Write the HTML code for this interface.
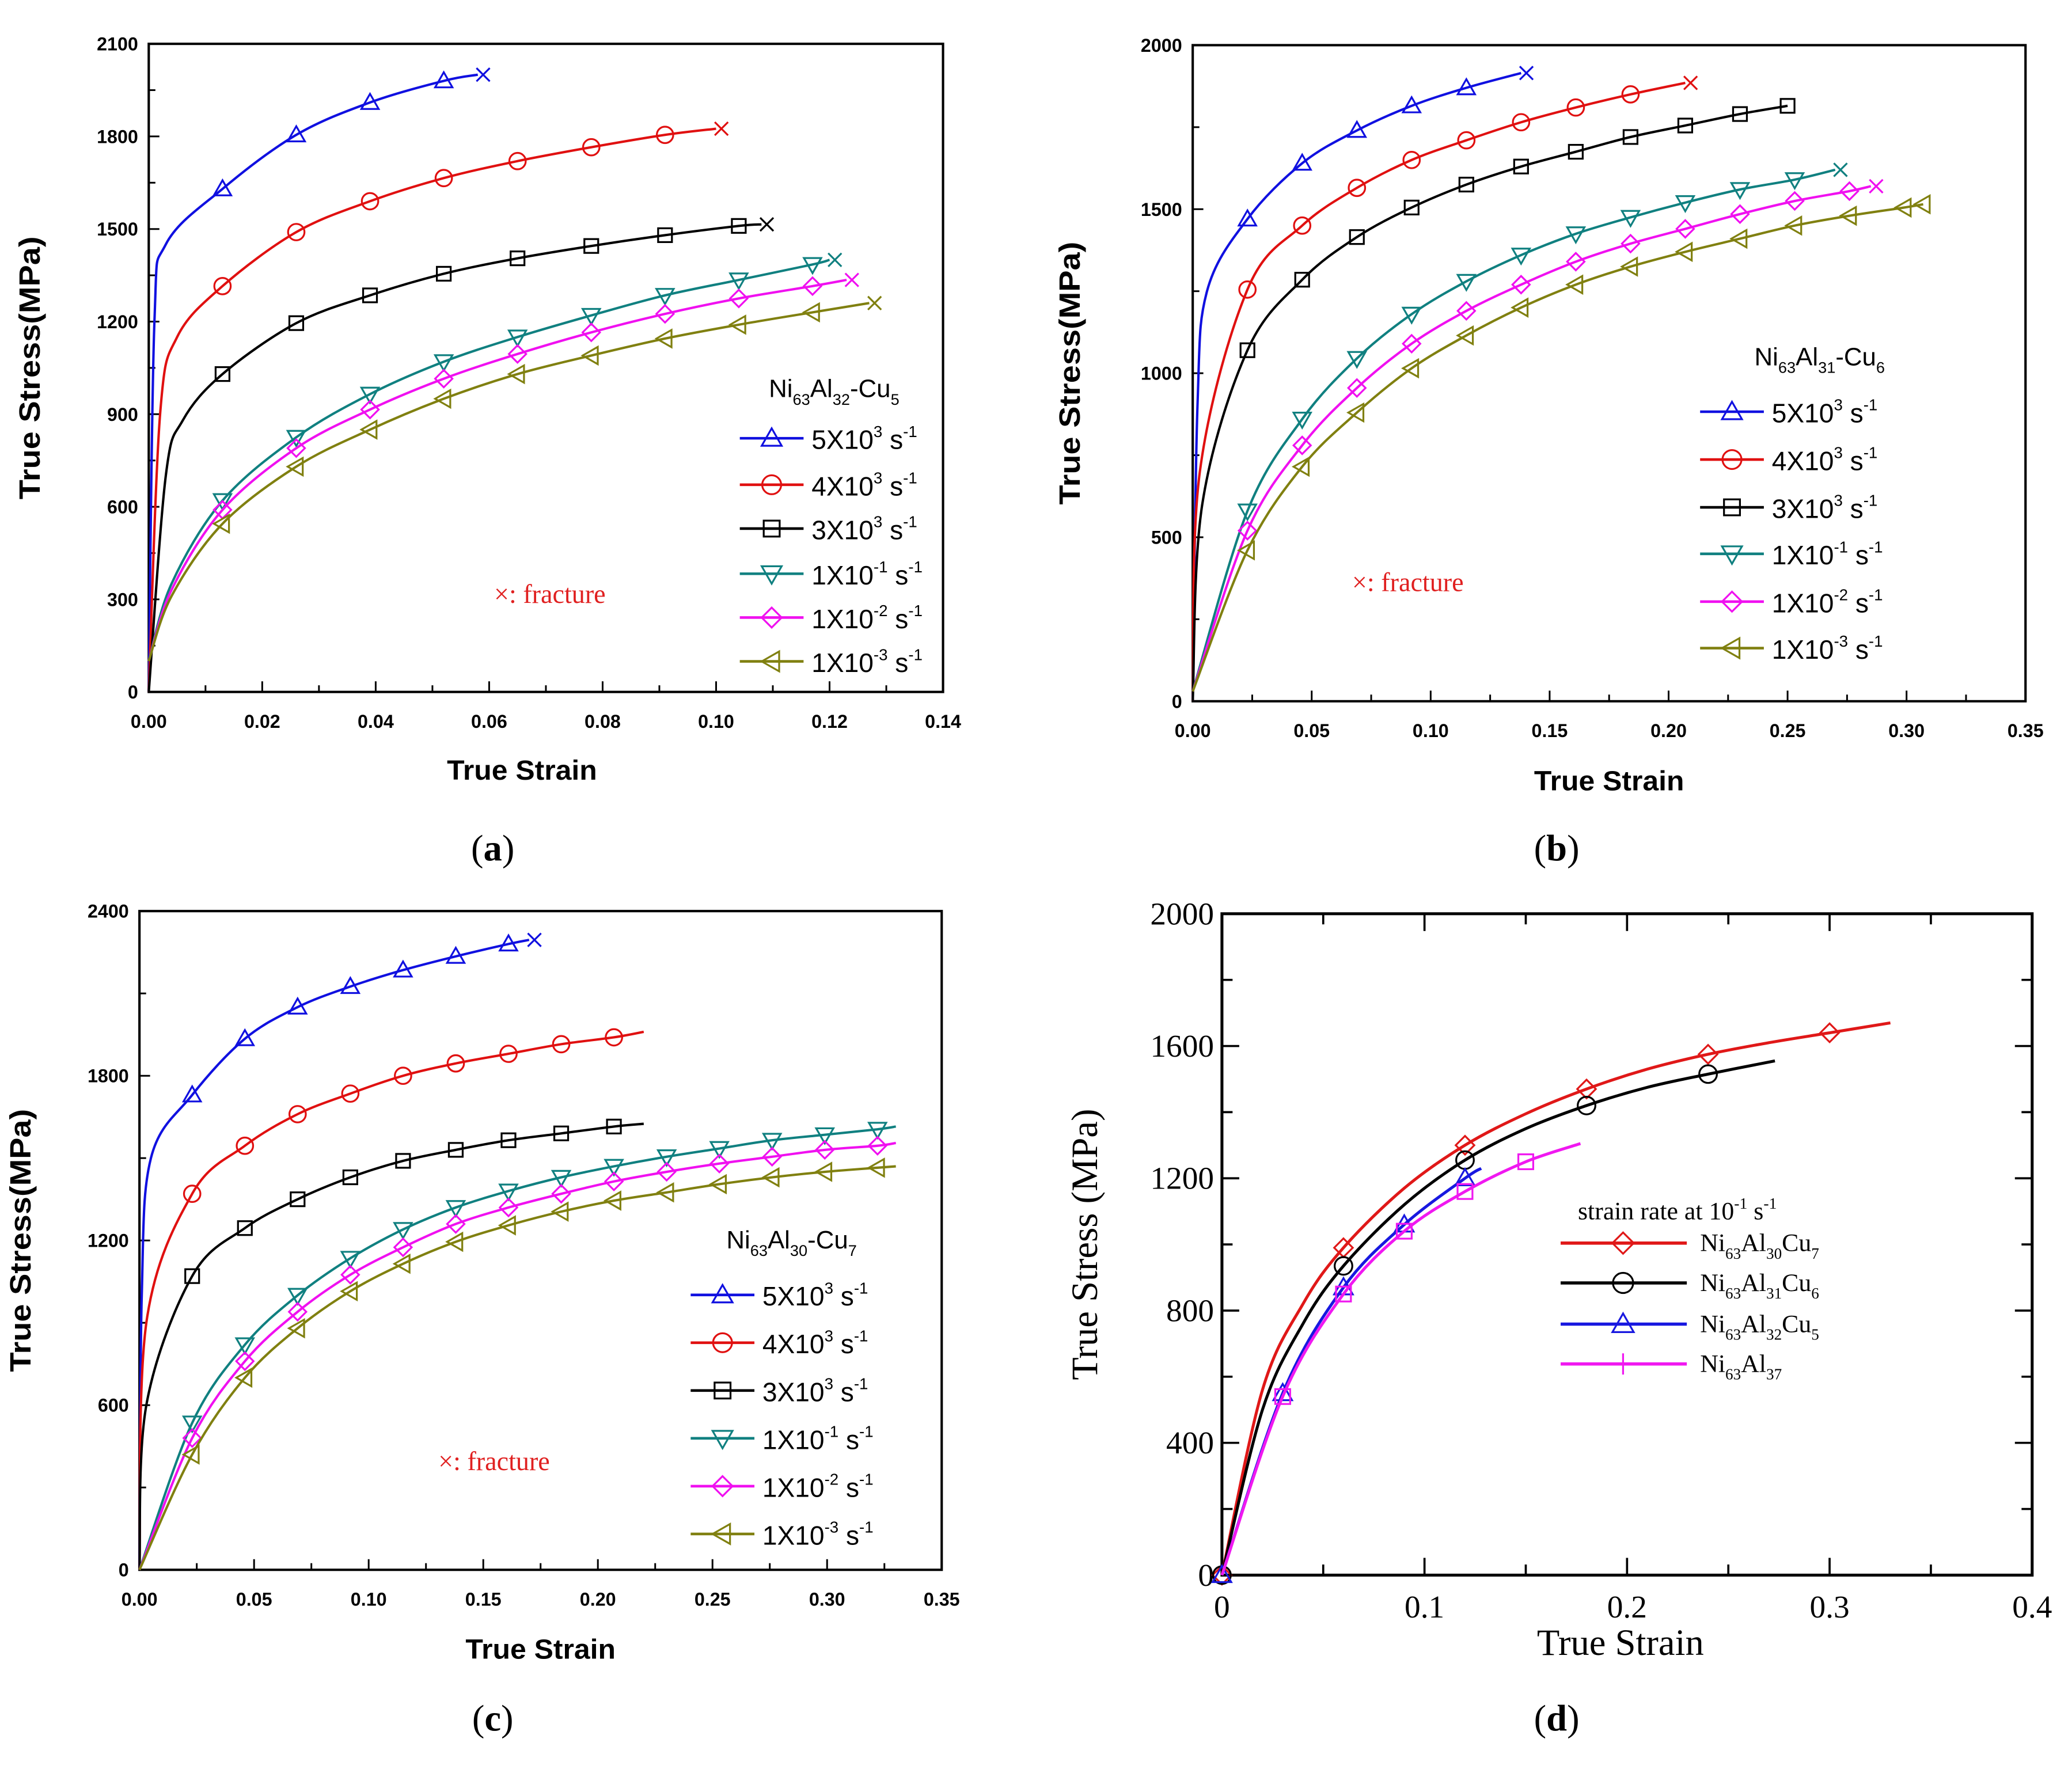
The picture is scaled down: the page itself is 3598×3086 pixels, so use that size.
<!DOCTYPE html>
<html><head><meta charset="utf-8"><style>
html,body{margin:0;padding:0;background:#fff;}
svg{display:block;}
</style></head><body>
<svg id="fig" xmlns="http://www.w3.org/2000/svg" width="3598" height="3086" viewBox="0 0 1560 1338"></svg>
<script>
const NS='http://www.w3.org/2000/svg';
const svg=document.getElementById('fig');

// ---------- DATA ----------
// Panel a: Ni63Al32-Cu5
const aRates=['5X10|3','4X10|3','3X10|3','1X10|-1','1X10|-2','1X10|-3'];
const aX5e3=[0,0.001,0.003,0.013,0.026,0.039,0.052,0.058];
const aY5e3=[0,1200,1450,1630,1805,1910,1980,2000];
const aX4e3=[0,0.002,0.005,0.013,0.026,0.039,0.052,0.065,0.078,0.091,0.100];
const aY4e3=[0,900,1150,1315,1490,1590,1665,1720,1765,1805,1825];
const aX3e3=[0,0.003,0.006,0.013,0.026,0.039,0.052,0.065,0.078,0.091,0.104,0.108];
const aY3e3=[0,700,880,1030,1195,1285,1355,1405,1445,1480,1510,1515];
const aX1e1=[0,0.004,0.013,0.026,0.039,0.052,0.065,0.078,0.091,0.104,0.117,0.120];
const aY1e1=[100,350,620,825,965,1070,1150,1220,1285,1335,1385,1400];
const aX1e2=[0,0.004,0.013,0.026,0.039,0.052,0.065,0.078,0.091,0.104,0.117,0.123];
const aY1e2=[100,330,590,790,915,1015,1095,1165,1225,1275,1315,1335];
const aX1e3=[0,0.004,0.013,0.026,0.039,0.052,0.065,0.078,0.091,0.104,0.117,0.127];
const aY1e3=[100,310,545,730,850,950,1030,1090,1145,1190,1230,1260];
// Panel b: Ni63Al31-Cu6
const bX5e3=[0,0.002,0.006,0.023,0.046,0.069,0.092,0.115,0.138];
const bY5e3=[0,900,1250,1470,1640,1740,1815,1870,1915];
const bX4e3=[0,0.003,0.023,0.046,0.069,0.092,0.115,0.138,0.161,0.184,0.207];
const bY4e3=[0,700,1255,1450,1565,1650,1710,1765,1810,1850,1885];
const bX3e3=[0,0.004,0.023,0.046,0.069,0.092,0.115,0.138,0.161,0.184,0.207,0.230,0.250];
const bY3e3=[0,600,1070,1285,1415,1505,1575,1630,1675,1720,1755,1790,1815];
const bX1e1=[0,0.023,0.046,0.069,0.092,0.115,0.138,0.161,0.184,0.207,0.230,0.253,0.270];
const bY1e1=[30,580,860,1045,1180,1280,1360,1425,1475,1520,1560,1590,1620];
const bX1e2=[0,0.023,0.046,0.069,0.092,0.115,0.138,0.161,0.184,0.207,0.230,0.253,0.276,0.285];
const bY1e2=[30,520,780,955,1090,1190,1270,1340,1395,1440,1485,1525,1555,1570];
const bX1e3=[0,0.023,0.046,0.069,0.092,0.115,0.138,0.161,0.184,0.207,0.230,0.253,0.276,0.299,0.307];
const bY1e3=[30,460,715,880,1015,1115,1200,1270,1325,1370,1410,1450,1480,1505,1515];
// Panel c: Ni63Al30-Cu7
const cX5e3=[0,0.001,0.005,0.023,0.046,0.069,0.092,0.115,0.138,0.161,0.170];
const cY5e3=[0,1000,1500,1730,1935,2050,2125,2185,2235,2280,2295];
const cX4e3=[0,0.003,0.023,0.046,0.069,0.092,0.115,0.138,0.161,0.184,0.207,0.220];
const cY4e3=[0,900,1370,1545,1660,1735,1800,1845,1880,1915,1940,1960];
const cX3e3=[0,0.003,0.023,0.046,0.069,0.092,0.115,0.138,0.161,0.184,0.207,0.220];
const cY3e3=[0,600,1070,1245,1350,1430,1490,1530,1565,1590,1615,1625];
const cX1e1=[0,0.023,0.046,0.069,0.092,0.115,0.138,0.161,0.184,0.207,0.230,0.253,0.276,0.299,0.322,0.330];
const cY1e1=[0,535,820,1000,1135,1240,1320,1380,1430,1470,1505,1535,1565,1585,1605,1615];
const cX1e2=[0,0.023,0.046,0.069,0.092,0.115,0.138,0.161,0.184,0.207,0.230,0.253,0.276,0.299,0.322,0.330];
const cY1e2=[0,480,760,940,1075,1175,1260,1320,1370,1415,1450,1480,1505,1530,1545,1555];
const cX1e3=[0,0.023,0.046,0.069,0.092,0.115,0.138,0.161,0.184,0.207,0.230,0.253,0.276,0.299,0.322,0.330];
const cY1e3=[0,420,700,880,1015,1115,1195,1255,1305,1345,1375,1405,1430,1450,1465,1470];
// Panel d: compositions at 10^-1 s^-1
const dXCu7=[0,0.02,0.04,0.06,0.09,0.12,0.15,0.18,0.21,0.24,0.27,0.30,0.33];
const dYCu7=[0,560,820,990,1170,1300,1395,1470,1530,1575,1610,1640,1670];
const dXCu6=[0,0.02,0.04,0.06,0.09,0.12,0.15,0.18,0.21,0.24,0.273];
const dYCu6=[0,500,760,935,1120,1255,1350,1420,1475,1515,1555];
const dXCu5=[0,0.03,0.06,0.09,0.12,0.128];
const dYCu5=[0,550,870,1060,1200,1230];
const dXAl37=[0,0.03,0.06,0.09,0.12,0.15,0.177];
const dYAl37=[0,540,850,1040,1160,1250,1305];
const dMarkXCu7=[0,0.06,0.12,0.18,0.24,0.30];
const dMarkXCu6=[0,0.06,0.12,0.18,0.24];
const dMarkXCu5=[0,0.03,0.06,0.09,0.12];
const dMarkXAl37=[0.03,0.06,0.09,0.12,0.15];

// ---------- helpers ----------
function el(tag,attrs,parent){const e=document.createElementNS(NS,tag);for(const k in attrs)e.setAttribute(k,attrs[k]);(parent||svg).appendChild(e);return e;}
function smoothPath(pts){
  let d='M'+pts[0][0].toFixed(2)+','+pts[0][1].toFixed(2);
  for(let i=0;i<pts.length-1;i++){
    const p0=pts[i-1]||pts[i],p1=pts[i],p2=pts[i+1],p3=pts[i+2]||p2;
    const c1=[p1[0]+(p2[0]-p0[0])/6,p1[1]+(p2[1]-p0[1])/6];
    const c2=[p2[0]-(p3[0]-p1[0])/6,p2[1]-(p3[1]-p1[1])/6];
    d+=' C'+c1.map(v=>v.toFixed(2)).join(',')+' '+c2.map(v=>v.toFixed(2)).join(',')+' '+p2[0].toFixed(2)+','+p2[1].toFixed(2);
  }
  return d;
}
function marker(g,type,x,y,color,r){
  r=r||6;let m;
  if(type==='tri') m=el('polygon',{points:`${x},${y-r} ${x-r},${y+r*0.75} ${x+r},${y+r*0.75}`},g);
  else if(type==='itri') m=el('polygon',{points:`${x},${y+r} ${x-r},${y-r*0.75} ${x+r},${y-r*0.75}`},g);
  else if(type==='ltri') m=el('polygon',{points:`${x-r},${y} ${x+r*0.75},${y-r} ${x+r*0.75},${y+r}`},g);
  else if(type==='circ') m=el('circle',{cx:x,cy:y,r:r*0.95},g);
  else if(type==='sq') m=el('rect',{x:x-r*0.8,y:y-r*0.8,width:r*1.6,height:r*1.6},g);
  else if(type==='dia') m=el('polygon',{points:`${x},${y-r} ${x+r},${y} ${x},${y+r} ${x-r},${y}`},g);
  else if(type==='plus'){m=el('path',{d:`M${x-r},${y}H${x+r}M${x},${y-r}V${y+r}`},g);}
  m.setAttribute('fill','none');m.setAttribute('stroke',color);m.setAttribute('stroke-width','1.4');
  
  
  return m;
}
function cross(g,x,y,color){
  const c=el('path',{d:`M${x-5},${y-5}L${x+5},${y+5}M${x+5},${y-5}L${x-5},${y+5}`,stroke:color,'stroke-width':1.4,fill:'none'},g);
  
  
}
function rateText(g,x,y,rate,size){
  const [base,exp]=rate.split('|');
  const t=el('text',{x:x,y:y,'font-family':'"Liberation Sans",sans-serif','font-size':size,fill:'#000'},g);
  
  
  const a=el('tspan',{},t);a.textContent=base;
  const b=el('tspan',{'font-size':size*0.6,dy:-size*0.45},t);b.textContent=exp;
  const c=el('tspan',{dy:size*0.45},t);c.textContent=' s';
  const d=el('tspan',{'font-size':size*0.6,dy:-size*0.45},t);d.textContent='-1';
}
function subText(g,x,y,parts,size,fam,anchor){
  const t=el('text',{x:x,y:y,'font-family':fam,'font-size':size,fill:'#000','text-anchor':anchor||'start'},g);
  
  
  parts.forEach(p=>{const s=el('tspan',p[1]?{'font-size':size*0.62,dy:size*0.3}:{dy:0},t);if(p[2])s.setAttribute('dy',-size*0.3);s.textContent=p[0];});
  return t;
}

const SANS='"Liberation Sans",sans-serif', SERIF='"Liberation Serif",serif';

// ---------- panels a,b,c ----------
function panelABC(cfg){
  const g=el('g',{});
  
  
  const {L,R,T,B,xmax,ymax}=cfg;
  const sx=v=>L+(v/xmax)*(R-L), sy=v=>B-(v/ymax)*(B-T);
  for(let v=0;v<=xmax+1e-9;v+=cfg.xminor){
    const major=Math.abs(Math.round(v/cfg.xstep)*cfg.xstep-v)<1e-9;
    el('line',{x1:sx(v),x2:sx(v),y1:B,y2:B-(major?8:5),stroke:'#000','stroke-width':1.3},g);
  }
  cfg.xticks.forEach(v=>{
    const t=el('text',{x:sx(v),y:cfg.xlabY,'text-anchor':'middle','font-family':SANS,'font-weight':'bold','font-size':14,fill:'#000'},g);
    
    t.textContent=v.toFixed(2);
  });
  for(let v=0;v<=ymax+1e-9;v+=cfg.yminor){
    const major=Math.abs(Math.round(v/cfg.ystep)*cfg.ystep-v)<1e-9;
    el('line',{x1:L,x2:L+(major?8:5),y1:sy(v),y2:sy(v),stroke:'#000','stroke-width':1.3},g);
  }
  cfg.yticks.forEach(v=>{
    const t=el('text',{x:L-8,y:sy(v)+5,'text-anchor':'end','font-family':SANS,'font-weight':'bold','font-size':14,fill:'#000'},g);
    
    t.textContent=v;
  });
  const fr=el('rect',{x:L,y:T,width:R-L,height:B-T,fill:'none',stroke:'#000','stroke-width':1.8},g);
  
  const yt=el('text',{x:0,y:0,transform:`translate(${cfg.ytX},${(T+B)/2}) rotate(-90)`,'text-anchor':'middle','font-family':SANS,'font-weight':'bold','font-size':22,textLength:198,lengthAdjust:'spacingAndGlyphs',fill:'#000'},g);
  yt.textContent='True Stress(MPa)';
  const xt=el('text',{x:(L+R)/2-(cfg.xtOff||0),y:cfg.xtY,'text-anchor':'middle','font-family':SANS,'font-weight':'bold','font-size':21,textLength:113,lengthAdjust:'spacingAndGlyphs',fill:'#000'},g);
  xt.textContent='True Strain';
  const pl=el('text',{x:cfg.labX,y:cfg.labY,'text-anchor':'middle','font-family':SERIF,'font-size':28,fill:'#000'},g);
  
  pl.innerHTML='(<tspan font-weight="bold">'+cfg.label+'</tspan>)';
  cfg.series.forEach((s,i)=>{
    const sg=el('g',{},g);
    
    
    const pts=s.x.map((v,k)=>[sx(v),sy(s.y[k])]);
    el('path',{d:smoothPath(pts),fill:'none',stroke:s.color,'stroke-width':1.8},sg);
    s.x.forEach((v,k)=>{ if(v>=cfg.mstart && k<s.x.length-(s.frac?1:0) && (k<s.x.length-1||s.lastMark)) marker(sg,s.m,sx(v),sy(s.y[k]),s.color,6.5); });
    if(s.frac){const k=s.x.length-1;cross(sg,sx(s.x[k])+4,sy(s.y[k]),s.color);}
    const ly=cfg.legY[i];
    const lg=el('g',{},g);
    
    
    el('line',{x1:cfg.legX,x2:cfg.legX+48,y1:ly,y2:ly,stroke:s.color,'stroke-width':2},lg);
    marker(lg,s.m,cfg.legX+24,ly,s.color,7.5);
    rateText(lg,cfg.legX+54,ly+8,cfg.rates[i],20);
  });
  subText(g,cfg.legTX,cfg.legTY,cfg.title,19,SANS,'middle');
  const f=el('text',{x:cfg.fracX,y:cfg.fracY,'font-family':SERIF,'font-size':20,fill:'#e02020'},g);
  
  f.textContent='×: fracture';
}
const cols={b:'#1010e0',r:'#e01010',k:'#000',t:'#108080',m:'#f010f0',o:'#808010'};
function mkSeries(xs,ys,frac){
  const ids=['5e3','4e3','3e3','1e-1','1e-2','1e-3'],c=[cols.b,cols.r,cols.k,cols.t,cols.m,cols.o],m=['tri','circ','sq','itri','dia','ltri'];
  return ids.map((id,i)=>({id,x:xs[i],y:ys[i],color:c[i],m:m[i],frac:frac[i],lastMark:false}));
}
panelABC({name:'panel-a',label:'a',L:112,R:710,T:33,B:521,xmax:0.14,ymax:2100,xstep:0.02,xminor:0.01,ystep:300,yminor:150,
  xticks:[0,0.02,0.04,0.06,0.08,0.10,0.12,0.14],yticks:[0,300,600,900,1200,1500,1800,2100],xlabY:548,ytX:30,xtY:587,xtOff:18,labX:371,labY:648,
  mstart:0.012,rates:aRates,legX:557,legY:[330,365,398,432,465,498],legTX:628,legTY:299,title:[['Ni'],['63',1],['Al',0,1],['32',1],['-Cu',0,1],['5',1]],
  fracX:372,fracY:454,
  series:mkSeries([aX5e3,aX4e3,aX3e3,aX1e1,aX1e2,aX1e3],[aY5e3,aY4e3,aY3e3,aY1e1,aY1e2,aY1e3],[1,1,1,1,1,1])});
panelABC({name:'panel-b',label:'b',L:898,R:1525,T:34,B:528,xmax:0.35,ymax:2000,xstep:0.05,xminor:0.025,ystep:500,yminor:250,
  xticks:[0,0.05,0.10,0.15,0.20,0.25,0.30,0.35],yticks:[0,500,1000,1500,2000],xlabY:555,ytX:813,xtY:595,labX:1172,labY:648,
  mstart:0.02,rates:aRates,legX:1280,legY:[310,346,382,417,453,488],legTX:1370,legTY:275,title:[['Ni'],['63',1],['Al',0,1],['31',1],['-Cu',0,1],['6',1]],
  fracX:1018,fracY:445,
  series:(()=>{const s=mkSeries([bX5e3,bX4e3,bX3e3,bX1e1,bX1e2,bX1e3],[bY5e3,bY4e3,bY3e3,bY1e1,bY1e2,bY1e3],[1,1,0,1,1,0]);s[2].lastMark=true;s[5].lastMark=true;return s;})()});
panelABC({name:'panel-c',label:'c',L:105,R:709,T:686,B:1182,xmax:0.35,ymax:2400,xstep:0.05,xminor:0.025,ystep:600,yminor:300,
  xticks:[0,0.05,0.10,0.15,0.20,0.25,0.30,0.35],yticks:[0,600,1200,1800,2400],xlabY:1209,ytX:23,xtY:1249,labX:371,labY:1303,
  mstart:0.02,rates:aRates,legX:520,legY:[975,1011,1047,1083,1119,1155],legTX:596,legTY:940,title:[['Ni'],['63',1],['Al',0,1],['30',1],['-Cu',0,1],['7',1]],
  fracX:330,fracY:1107,
  series:mkSeries([cX5e3,cX4e3,cX3e3,cX1e1,cX1e2,cX1e3],[cY5e3,cY4e3,cY3e3,cY1e1,cY1e2,cY1e3],[1,0,0,0,0,0])});

// ---------- panel d ----------
(function(){
  const g=el('g',{});
  
  
  const L=920,R=1530,T=688,B=1186,xmax=0.4,ymax=2000;
  const sx=v=>L+(v/xmax)*(R-L), sy=v=>B-(v/ymax)*(B-T);
  for(let v=0.05;v<xmax-1e-9;v+=0.05){
    const major=Math.abs(Math.round(v*10)/10-v)<1e-9, len=major?13:8;
    el('line',{x1:sx(v),x2:sx(v),y1:B,y2:B-len,stroke:'#000','stroke-width':1.6},g);
    el('line',{x1:sx(v),x2:sx(v),y1:T,y2:T+len,stroke:'#000','stroke-width':1.6},g);
  }
  for(let v=200;v<ymax;v+=200){
    const len=(v%400===0)?13:8;
    el('line',{x1:L,x2:L+len,y1:sy(v),y2:sy(v),stroke:'#000','stroke-width':1.6},g);
    el('line',{x1:R,x2:R-len,y1:sy(v),y2:sy(v),stroke:'#000','stroke-width':1.6},g);
  }
  const fr=el('rect',{x:L,y:T,width:R-L,height:B-T,fill:'none',stroke:'#000','stroke-width':2.2},g);
  
  [0,0.1,0.2,0.3,0.4].forEach(v=>{
    const t=el('text',{x:sx(v),y:1218,'text-anchor':'middle','font-family':SERIF,'font-size':24,fill:'#000'},g);
    
    t.textContent=v===0?'0':String(v);
  });
  [0,400,800,1200,1600,2000].forEach(v=>{
    const t=el('text',{x:L-6,y:sy(v)+8,'text-anchor':'end','font-family':SERIF,'font-size':24,fill:'#000'},g);
    
    t.textContent=v;
  });
  const yt=el('text',{x:0,y:0,transform:`translate(${826},${(T+B)/2}) rotate(-90)`,'text-anchor':'middle','font-family':SERIF,'font-size':28,fill:'#000'},g);
  yt.textContent='True Stress (MPa)';
  const xt=el('text',{x:1220,y:1246,'text-anchor':'middle','font-family':SERIF,'font-size':28,fill:'#000'},g);
  xt.textContent='True Strain';
  const pl=el('text',{x:1172,y:1303,'text-anchor':'middle','font-family':SERIF,'font-size':28,fill:'#000'},g);
  
  pl.innerHTML='(<tspan font-weight="bold">d</tspan>)';
  const series=[
    {id:'cu7',x:dXCu7,y:dYCu7,mx:dMarkXCu7,c:'#e01818',m:'dia',t:[['Ni'],['63',1],['Al',0,1],['30',1],['Cu',0,1],['7',1]]},
    {id:'cu6',x:dXCu6,y:dYCu6,mx:dMarkXCu6,c:'#000',m:'circ',t:[['Ni'],['63',1],['Al',0,1],['31',1],['Cu',0,1],['6',1]]},
    {id:'cu5',x:dXCu5,y:dYCu5,mx:dMarkXCu5,c:'#1818e0',m:'tri',t:[['Ni'],['63',1],['Al',0,1],['32',1],['Cu',0,1],['5',1]]},
    {id:'al37',x:dXAl37,y:dYAl37,mx:dMarkXAl37,c:'#f018f0',m:'sq',t:[['Ni'],['63',1],['Al',0,1],['37',1]]}
  ];
  function interp(xs,ys,v){for(let i=0;i<xs.length-1;i++){if(v>=xs[i]&&v<=xs[i+1]){const f=(v-xs[i])/(xs[i+1]-xs[i]);return ys[i]+f*(ys[i+1]-ys[i]);}}return ys[ys.length-1];}
  const legY=[936,966,997,1027];
  series.forEach((s,i)=>{
    const sg=el('g',{},g);
    
    
    el('path',{d:smoothPath(s.x.map((v,k)=>[sx(v),sy(s.y[k])])),fill:'none',stroke:s.c,'stroke-width':2.2},sg);
    s.mx.forEach(v=>marker(sg,s.m,sx(v),sy(interp(s.x,s.y,v)),s.c,7));
    const lg=el('g',{},g);
    
    
    el('line',{x1:1175,x2:1270,y1:legY[i],y2:legY[i],stroke:s.c,'stroke-width':2.4},lg);
    marker(lg,s.m==='sq'?'plus':s.m,1222,legY[i],s.c,8);
    subText(lg,1280,legY[i]+6,s.t,19,SERIF,'start');
  });
  const lt=el('text',{x:1188,y:918,'font-family':SERIF,'font-size':19,fill:'#000'},g);
  
  lt.innerHTML='strain rate at 10<tspan font-size="12" dy="-8">-1</tspan><tspan dy="8"> s</tspan><tspan font-size="12" dy="-8">-1</tspan>';
})();
</script>
</body></html>
